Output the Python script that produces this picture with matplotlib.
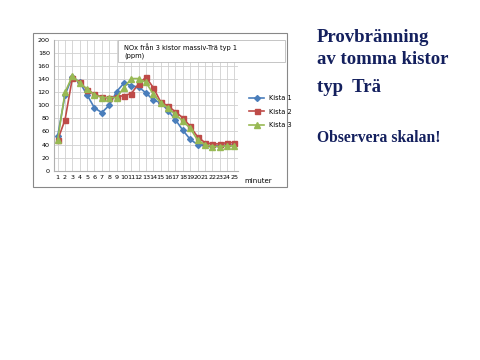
import matplotlib.pyplot as plt
from matplotlib.patches import Rectangle
import numpy as np

minutes = list(range(1, 26))
kista1 = [53, 116, 144, 135, 116, 96, 89, 100, 121, 134, 130, 128, 119, 108, 104,
          92, 78, 62, 48, 40, 39, 38, 38, 39, 39]
kista2 = [47, 78, 142, 135, 124, 117, 113, 111, 113, 115, 118, 133, 143, 127, 105,
          99, 90, 81, 68, 52, 43, 41, 41, 43, 43]
kista3 = [47, 120, 145, 134, 125, 116, 112, 112, 112, 127, 141, 141, 135, 117, 104,
          96, 86, 76, 65, 47, 40, 37, 37, 38, 38]
yticks = list(range(0, 201, 20))

W, H = 480, 360
fig = plt.figure(figsize=(4.8, 3.6), dpi=100)

def fx(px):
    return px / W

def fy(py):
    return 1 - py / H

# chart frame
fig.patches.append(Rectangle((fx(33), fy(187)), fx(287) - fx(33), fy(33) - fy(187),
                             transform=fig.transFigure, fill=False, ec='#888888', lw=0.8))

ax = fig.add_axes([fx(54), fy(170.7), fx(238) - fx(54), fy(40) - fy(170.7)])
ax.plot(minutes, kista1, color='#4a7ebb', marker='D', ms=3, lw=1.2, label='Kista 1')
ax.plot(minutes, kista2, color='#be4b48', marker='s', ms=3.6, lw=1.2, label='Kista 2')
ax.plot(minutes, kista3, color='#98b954', marker='^', ms=3.8, lw=1.2, label='Kista 3')
ax.set_xlim(0.5, 25.5)
ax.set_ylim(0, 200)
ax.set_xticks(minutes)
ax.set_xticklabels([str(m) for m in minutes], fontsize=4.6)
ax.set_yticks(yticks)
ax.set_yticklabels([str(v) for v in yticks], fontsize=4.6)
ax.tick_params(length=0, pad=3)
ax.grid(True, color='#d0d0d0', lw=0.6)
ax.set_axisbelow(True)
for s in ['top', 'right']:
    ax.spines[s].set_visible(False)
ax.spines['left'].set_color('#b0b0b0')
ax.spines['bottom'].set_color('#b0b0b0')

fig.text(fx(244), fy(181), 'minuter', fontsize=5, va='center')

# title box
fig.patches.append(Rectangle((fx(118), fy(62)), fx(285) - fx(118), fy(40) - fy(62),
                             transform=fig.transFigure, fc='white', ec='#bbbbbb', lw=0.6))
fig.text(fx(124), fy(51), 'NOx från 3 kistor massiv-Trä typ 1\n(ppm)', fontsize=4.8,
         va='center', linespacing=1.4)

leg = ax.legend(loc='upper left', bbox_to_anchor=(fx(246), fy(92)), bbox_transform=fig.transFigure,
                frameon=False, fontsize=4.8, handlelength=2.2, labelspacing=1.1, borderpad=0)

navy = '#14205e'
fig.text(fx(317), fy(38), 'Provbränning', fontsize=13.5, fontweight='bold',
         family='Liberation Serif', color=navy, va='center')
fig.text(fx(317), fy(60), 'av tomma kistor', fontsize=13.5, fontweight='bold',
         family='Liberation Serif', color=navy, va='center')
fig.text(fx(317), fy(88), 'typ  Trä', fontsize=13.5, fontweight='bold',
         family='Liberation Serif', color=navy, va='center')
fig.text(fx(317), fy(138), 'Observera skalan!', fontsize=11.3, fontweight='bold',
         family='Liberation Serif', color=navy, va='center')

fig.savefig('out.png', dpi=100)
